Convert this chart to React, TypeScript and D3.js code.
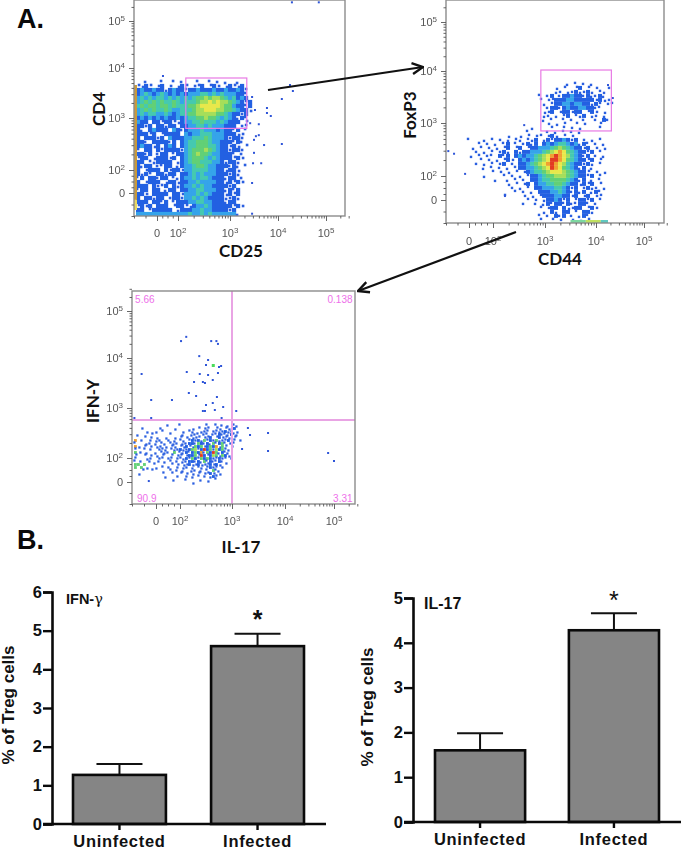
import React, { useEffect, useRef } from 'react';
import * as d3 from 'd3';

// Flow plots: axis units are decades (2 = 10^2 ... 5 = 10^5), 0 is the "0" tick of the biexponential axis
const flowDecades = [-1, 0, 2, 3, 4, 5];
const flowTickLabels = [0, 2, 3, 4, 5];

// density, one char per cell: . empty, a sparse ... i red
const cd4Density = [
  '..a...a..a.a...a..a.a.a..a...',
  'aaba.ab.a.aba.aab.aba.abaab..',
  'bcbbcbbabcbbabbcbbbcbbcbbcba.',
  'bcdcbcdcbcbcbcccddcdcdcccbba.',
  'cdcdcddcdcdcdcdeefeffedcdbcb.',
  'cdedededdedcdddeffgfgffedcbab',
  'dedeedeededddeefgggggfeecbbab',
  'cdededdedccdddeffgggffeedcbba',
  'cdcddccdcbcddeefffffeedcbbab.',
  'bcbcbcbcbbcbcddeefeedcdcbaba.',
  'cbb.bbabbaabccddedddcdcbbb.a.',
  'bbab.bbabb.bbccddcdcccbbb.aa.',
  'ba.bcbbb.cbabcccdcccbcbbab.a.',
  'bbbab.abbbb.cbccdddcccbbbaa..',
  'b.bbbab.cbbbccdddedcccbabba..',
  'bba.bbbbab.bcddeeedccbbbaba..',
  'bcbbab.bcb.bcddeeeddcbbaba.a.',
  'a.bb.babbbbacdeeefedcbbabba..',
  'bbab.abb.abbcdefeedccbbba.a..',
  'abb.abbbab.bcdeeedcdcbbbaba..',
  'bb.aabbbb.abcdeedddccbabba...',
  'babb.aabb.abccdeedccbbbaba.a.',
  'b.abbb.babbaccddddccbbabba...',
  'baba.bbabb.bbcdcdcccbbbaba...',
  'ab.bbabb.aabccdcddcbbbabb.a..',
  'b.abbb.abbabbccdccccbbababa..',
  'bbb.baab.babccdcdccbbbbab....',
  'abb.bb.abb.bbccddcccbbabab...',
  'bba.bbbb.bbacccdcdcbbbabab...',
  'b.bbabb.abbaccdcdcbbbbaaba...',
  'bbb.bbab.abbbccddccbbbabb....',
  'abab.bbb.abbaabccdcbbbbbaba..',
  'bb.abbbbb.abbbccdccbbbbab....',
  'cccccccccccccdccdcdcccccca...',
];
const cd4Points = [
  [4.29, 5.4], [4.85, 5.4], [0.57, 3.84], [3.46, 3.42], [3.77, 3.2], [3.77, 3.1], [3.85, 3.04],
  [4.25, 3.66], [4.31, 3.54], [4.08, 3.38], [4.08, 2.5], [3.71, 2.48], [3.6, 2.88], [3.42, 2.9],
  [3.54, 2.65], [3.6, 2.67], [3.5, 2.58], [3.5, 2.33], [3.48, 2.13], [3.65, 2.13], [3.46, 0.87],
  [3.46, -0.9], [3.52, 3.16],
];

const foxp3Density = [
  '.........................a.a.a.a.....',
  '......................a.a..ab.a.a..a.',
  '......................aa.aabaaba.aa..',
  '..................a.ab.abbcbbabaaba..',
  '..................a.aabbbccbbbbbabaa.',
  '...................a.abbccbccbbaba.aa',
  '....................abbabcbbccbbaa...',
  '...................aab.abbabb.aba.a..',
  '...................aa.a.ab.aab.aa.a..',
  '...................a.a..a.a..a..a.ba.',
  '....................a.a.a..a.a...a...',
  '................a....a..a.a.a....a...',
  '...............a....a.a.a.a.a........',
  '..........a..a.a.aa.aba.a.a..........',
  'a...a.a.a.a.aa.aab.ababbcbab.a.a.a...',
  '...a.a.a.ab.a.abab.bcbcddcbcaba.a.a..',
  '.a.a.a.a.ab.ab.abbcccdefedcbbab.a.a..',
  '..a.a.a.aba.babbcccdefghgedcbbab.a...',
  '.a.a.aa.bab.bcbccdefghihgfdcbab.a.a..',
  '...a.a.a.aba.bcbcdefgiihgedcbbab.a...',
  '..a.a.a.ab.a.bbcdefghihgfdcbbaba.a...',
  '....a.a.a.a.abbccdefgihgedcbab.a.....',
  '......a.a.a.a.abcddefgggfedcbba.a.a..',
  '....a....a.a.a.abbcdeefffedcbbab.a...',
  '.......a..a.a.a.bbcddeeeedcbab.a.a...',
  '..........a.a.ab.bccddeedcbbabab.a...',
  '...........a.a.a.bbcccddcbab.abaa.a..',
  '............a.a.a.bbbccdcbabab.aba...',
  '.........a....a.a.abbbccbbab.ab.aa...',
  '...............a.a.abbcbab.abbab.a...',
  '..............a..a.ababbabaabba.a....',
  '..................a.abb.baabb.aba....',
  '...................a.ba.bb.a.bba.....',
  '..................a.a.bab.a.aba......',
  '..................a..a.a..a.a.a......',
];
const foxp3Points = [
  [-0.9, 2.47], [-0.65, 2.42], [-0.17, 2.04], [2.23, 0.33], [2.6, 2.96], [4.35, 3.48], [4.25, 3.73],
];

const ifngDensity = [
  '...........a...a........a..a.a.a.aa.',
  '..a.....a....a.....a.a.aa..aa.aa.b..',
  '....a..a.a......a.aa..aaa.aaaabaa.a.',
  '.a....a.....a...a..aaa.aa.aabaaabaa.',
  '...a.a.a..a..a.a.a.aaa.aab.abaaa.a.',
  'h.a..a.aa..a.a.aa.ababaeabaeaaab.a.a',
  'a...aa.a.aa.aaa.aabbaebabaeabea.aa..',
  'ha.a.a.aa.a.aa.aabaaebeabebhaea.a...',
  'a..a.a..aaa.aaabaabefabibeafbeaa....',
  'e.a.a..a.aaa.e.aababebhaebieabaa....',
  'a..a.a.a.a..a.aa.abbeaibabfeaeba....',
  'a...aa..aa.aa.aaabaebaebebaabaa.a...',
  'a.a..a..a.a.a.a.aabbabaeabaaba......',
  'ee.e..a.....a.a.aabaabaaababa.a.....',
  'e.e.a..a.a.a..a.aa.a.aa.abaa.a......',
  '...a..a.....a.a.a..aa.a.a.eaa.......',
  '.a.......a..a..a.a.a.a.aaba.a.......',
  '..........a...a..a.a.a.a.aba........',
  '.............a...a....a....a........',
  '...................a....a...........',
];
const ifngPoints = [
  [2.02, 4.36], [2.12, 4.45], [2.6, 4.36], [2.7, 4.36], [2.73, 4.3], [2.37, 4.04], [2.54, 3.96],
  [2.5, 3.86], [2.79, 3.84], [2.75, 3.82], [2.13, 3.72], [2.38, 3.68], [2.54, 3.66], [2.73, 3.7],
  [-0.6, 3.68], [2.27, 3.52], [2.44, 3.52], [2.48, 3.5], [2.63, 3.56], [3.0, 3.5], [2.17, 3.3],
  [2.31, 3.24], [2.71, 3.22], [-0.2, 3.16], [1.33, 3.16], [2.63, 3.1], [2.5, 3.06], [2.83, 3.02],
  [2.67, 2.96], [2.44, 2.94], [2.48, 2.94], [3.08, 2.94], [-0.9, 2.8], [-0.2, 2.8], [2.8, 2.8],
  [3.68, 2.5], [3.68, 2.14], [4.88, 2.1], [5.0, 1.75], [3.19, 2.18], [3.3, 2.6], [3.34, 2.46],
  [-0.3, 0.08],
];
const ifngGreenPoints = [[2.63, 3.86]];
const ifngQuadrants = ['5.66', '0.138', '90.9', '3.31'];

// bar panels
const groups = ['Uninfected', 'Infected'];
const ifngMeans = [1.27, 4.6];
const ifngErrors = [0.28, 0.32];
const il17Means = [1.6, 4.28];
const il17Errors = [0.38, 0.38];

const densityColors: Record<string, string> = {
  a: '#2a5ee0', b: '#2360e2', c: '#35a4ea', d: '#45c9b0', e: '#62d076',
  f: '#a6de5a', g: '#e8e84c', h: '#f0a030', i: '#e23a22',
};

const PINK = '#e87ae4';

function flowPlot(svg: any, id: string, cfg: any) {
  const [left, right, top, bottom] = cfg.frame;
  const x = d3.scaleLinear().domain([...flowDecades, cfg.xHi]).range(cfg.xPx);
  const y = d3.scaleLinear().domain([...flowDecades, cfg.yHi]).range(cfg.yPx);

  svg.append('clipPath').attr('id', id).append('rect')
    .attr('x', left).attr('y', top).attr('width', right - left).attr('height', bottom - top);

  const g = svg.append('g').attr('filter', 'url(#soft)');
  const plot = g.append('g').attr('clip-path', `url(#${id})`);

  // density cells, sparse ones nudged off the lattice
  const nRows = cfg.density.length;
  const nCols = d3.max(cfg.density, (r: string) => r.length) as number;
  const colBand = d3.scaleBand<number>().domain(d3.range(nCols))
    .range([x(cfg.gridX), x(cfg.gridX) + nCols * cfg.cell]);
  const rowBand = d3.scaleBand<number>().domain(d3.range(nRows))
    .range([y(cfg.gridY), y(cfg.gridY) + nRows * cfg.cell]);
  const cells: { c: number; r: number; k: string }[] = [];
  cfg.density.forEach((row: string, r: number) => {
    row.split('').forEach((k, c) => {
      if (k !== '.') cells.push({ c, r, k });
    });
  });
  const side = (d: any) => cfg.cell * (d.k === 'a' ? cfg.dot : cfg.full);
  const nudge = (a: number, b: number) => ((a * 3 + b * 5) % 3) - 1;
  plot.selectAll('.cell').data(cells).enter().append('rect')
    .attr('class', 'cell')
    .attr('x', (d: any) => colBand(d.c)! + (cfg.cell - side(d)) / 2 + (d.k === 'a' ? nudge(d.c, d.r) : 0))
    .attr('y', (d: any) => rowBand(d.r)! + (cfg.cell - side(d)) / 2 + (d.k === 'a' ? nudge(d.r + 1, d.c) : 0))
    .attr('width', side)
    .attr('height', side)
    .attr('fill', (d: any) => densityColors[d.k]);

  // events that pile up on the low edge
  (cfg.yEdge || []).forEach(([a, b, color]: [number, number, string]) => {
    plot.append('rect').attr('x', left).attr('y', y(a)).attr('width', 3)
      .attr('height', y(b) - y(a)).attr('fill', color);
  });
  (cfg.xEdge || []).forEach(([a, b, color]: [number, number, string]) => {
    plot.append('rect').attr('x', x(a)).attr('y', bottom - 3).attr('height', 3)
      .attr('width', x(b) - x(a)).attr('fill', color);
  });

  // single events
  plot.selectAll('.pt').data(cfg.points).enter().append('rect')
    .attr('class', 'pt')
    .attr('x', (d: number[]) => x(d[0]) - 1).attr('y', (d: number[]) => y(d[1]) - 1)
    .attr('width', 2).attr('height', 2).attr('fill', '#2f55d8');
  plot.selectAll('.gpt').data(cfg.greenPoints || []).enter().append('rect')
    .attr('class', 'gpt')
    .attr('x', (d: number[]) => x(d[0]) - 1).attr('y', (d: number[]) => y(d[1]) - 1)
    .attr('width', 3).attr('height', 3).attr('fill', '#48dc5a');

  // gate
  if (cfg.gate) {
    const [gx0, gx1, gy0, gy1] = cfg.gate;
    g.append('rect')
      .attr('x', x(gx0)).attr('y', y(gy1))
      .attr('width', x(gx1) - x(gx0)).attr('height', y(gy0) - y(gy1))
      .attr('fill', 'none').attr('stroke', PINK).attr('stroke-width', 1.2);
  }
  if (cfg.cross) {
    g.append('line').attr('x1', x(cfg.cross[0])).attr('x2', x(cfg.cross[0]))
      .attr('y1', top).attr('y2', bottom).attr('stroke', '#e9a4e4').attr('stroke-width', 2);
    g.append('line').attr('x1', left).attr('x2', right)
      .attr('y1', y(cfg.cross[1])).attr('y2', y(cfg.cross[1])).attr('stroke', '#e9a4e4').attr('stroke-width', 2);
  }

  // frame
  g.append('rect').attr('x', left).attr('y', top)
    .attr('width', right - left).attr('height', bottom - top)
    .attr('fill', 'none').attr('stroke', '#8c8c8c').attr('stroke-width', 1.4);

  // minor + major ticks
  const minor: number[] = [-1, -0.5, 0.5, 1, 1.5];
  [2, 3, 4].forEach((d) => d3.range(2, 10).forEach((k) => minor.push(d + Math.log10(k))));
  [2, 3].forEach((k) => minor.push(5 + Math.log10(k)));
  const styleAxis = (a: any) => {
    a.select('.domain').remove();
    a.selectAll('line').attr('stroke', '#555').attr('stroke-width', 0.9);
  };
  g.append('g').attr('transform', `translate(0,${bottom})`)
    .call(d3.axisBottom(x).tickValues(minor).tickSize(2.5).tickFormat(() => '')).call(styleAxis);
  g.append('g').attr('transform', `translate(0,${bottom})`)
    .call(d3.axisBottom(x).tickValues(flowTickLabels).tickSize(5).tickFormat(() => '')).call(styleAxis);
  g.append('g').attr('transform', `translate(${left},0)`)
    .call(d3.axisLeft(y).tickValues(minor).tickSize(2.5).tickFormat(() => '')).call(styleAxis);
  g.append('g').attr('transform', `translate(${left},0)`)
    .call(d3.axisLeft(y).tickValues(flowTickLabels).tickSize(5).tickFormat(() => '')).call(styleAxis);

  // tick labels with superscript
  const tickLabel = (sel: any, d: number) => {
    if (d === 0) {
      sel.text('0');
    } else {
      sel.append('tspan').text('10');
      sel.append('tspan').attr('dy', -4).attr('font-size', 8).text(d);
    }
  };
  flowTickLabels.forEach((d) => {
    const tx = g.append('text').attr('x', x(d)).attr('y', bottom + cfg.xLabelGap)
      .attr('text-anchor', 'middle').attr('font-family', 'Liberation Sans').attr('font-size', 11).attr('fill', '#555');
    tickLabel(tx, d);
    const ty = g.append('text').attr('x', left - 9).attr('y', y(d) + 4)
      .attr('text-anchor', 'end').attr('font-family', 'Liberation Sans').attr('font-size', 11).attr('fill', '#555');
    tickLabel(ty, d);
  });

  // axis titles
  const titleFont = { family: 'Lato', size: 17 };
  svg.append('text').attr('x', cfg.xTitle[1]).attr('y', cfg.xTitle[2])
    .attr('text-anchor', 'middle').attr('font-family', titleFont.family).attr('font-weight', 700)
    .attr('font-size', titleFont.size).attr('fill', '#111').text(cfg.xTitle[0]);
  svg.append('text')
    .attr('transform', `translate(${cfg.yTitle[1]},${cfg.yTitle[2]}) rotate(-90)`)
    .attr('text-anchor', 'middle').attr('font-family', titleFont.family).attr('font-weight', 700)
    .attr('font-size', titleFont.size).attr('fill', '#111').text(cfg.yTitle[0]);

  return { x, y };
}

function barPanel(svg: any, cfg: any) {
  const y = d3.scaleLinear().domain([0, cfg.yMax]).range([cfg.y0, cfg.y1]);
  const x = d3.scaleBand<string>().domain(groups).range(cfg.xRange).paddingInner(0.327).paddingOuter(0);
  const data = groups.map((g, i) => ({ g, mean: cfg.means[i], err: cfg.errors[i] }));
  const g = svg.append('g');

  // error bars go behind the bar outline
  const bw = x.bandwidth();
  g.selectAll('.stem').data(data).enter().append('line')
    .attr('x1', (d: any) => x(d.g)! + bw / 2).attr('x2', (d: any) => x(d.g)! + bw / 2)
    .attr('y1', (d: any) => y(d.mean)).attr('y2', (d: any) => y(d.mean + d.err))
    .attr('stroke', '#111').attr('stroke-width', 2);
  g.selectAll('.cap').data(data).enter().append('line')
    .attr('x1', (d: any) => x(d.g)! + bw / 2 - 23).attr('x2', (d: any) => x(d.g)! + bw / 2 + 23)
    .attr('y1', (d: any) => y(d.mean + d.err)).attr('y2', (d: any) => y(d.mean + d.err))
    .attr('stroke', '#111').attr('stroke-width', 2);
  g.selectAll('.bar').data(data).enter().append('rect')
    .attr('x', (d: any) => x(d.g)!).attr('y', (d: any) => y(d.mean))
    .attr('width', bw).attr('height', (d: any) => cfg.y0 - y(d.mean))
    .attr('fill', '#858585').attr('stroke', '#0a0a0a').attr('stroke-width', 2.6);

  // y axis
  const yAxis = g.append('g').attr('transform', `translate(${cfg.axisX},0)`)
    .call(d3.axisLeft(y).ticks(cfg.yMax).tickSize(9).tickPadding(1).tickFormat(d3.format('d')));
  yAxis.select('.domain').attr('stroke', '#0a0a0a').attr('stroke-width', 2.6);
  yAxis.selectAll('line').attr('stroke', '#0a0a0a').attr('stroke-width', 2.4);
  yAxis.selectAll('text').attr('font-family', 'Liberation Sans').attr('font-weight', 700)
    .attr('font-size', 16.5).attr('fill', '#111');

  // x axis
  const xAxis = g.append('g').attr('transform', `translate(0,${cfg.y0})`)
    .call(d3.axisBottom(x).tickSize(6).tickPadding(5));
  xAxis.select('.domain').remove();
  xAxis.selectAll('line').attr('stroke', '#0a0a0a').attr('stroke-width', 2.4);
  xAxis.selectAll('text').attr('font-family', 'Liberation Sans').attr('font-weight', 700)
    .attr('font-size', 16.5).attr('letter-spacing', 0.7).attr('fill', '#111');
  g.append('line').attr('x1', cfg.axisX - 9).attr('x2', cfg.xEnd).attr('y1', cfg.y0).attr('y2', cfg.y0)
    .attr('stroke', '#0a0a0a').attr('stroke-width', 2.6);

  g.append('text')
    .attr('transform', `translate(${cfg.yTitleX},${cfg.yTitleY}) rotate(-90)`)
    .attr('text-anchor', 'middle').attr('font-family', 'Liberation Sans').attr('font-weight', 700)
    .attr('font-size', 17).attr('fill', '#111').text('% of Treg cells');

  // significance star on the infected group
  g.append('text').attr('x', x('Infected')! + bw / 2).attr('y', cfg.starY)
    .attr('text-anchor', 'middle').attr('font-family', 'Liberation Sans').attr('font-weight', cfg.starWeight)
    .attr('font-size', 25).attr('fill', '#111').text('*');
}

const App: React.FC = () => {
  const svgRef = useRef<SVGSVGElement>(null);

  useEffect(() => {
    if (!svgRef.current) return;
    const svg = d3.select(svgRef.current);
    svg.selectAll('*').remove();

    const defs = svg.append('defs');
    defs.append('filter').attr('id', 'soft').append('feGaussianBlur').attr('stdDeviation', 0.45);
    const marker = defs.append('marker').attr('id', 'head').attr('viewBox', '0 0 12 12')
      .attr('refX', 11).attr('refY', 6).attr('markerWidth', 13).attr('markerHeight', 13)
      .attr('markerUnits', 'userSpaceOnUse').attr('orient', 'auto');
    marker.append('path').attr('d', 'M1,1 L11,6 L1,11').attr('fill', 'none')
      .attr('stroke', '#111').attr('stroke-width', 2.2);

    flowPlot(svg, 'clip-cd4', {
      frame: [134, 345, 0, 216],
      xHi: 5.4, yHi: 5.45,
      xPx: [134, 157, 178, 230, 278, 326, 345],
      yPx: [216, 193, 170, 118, 68, 21, 0],
      density: cd4Density, gridX: -0.91, gridY: 3.76, cell: 4, dot: 0.65, full: 1.05,
      points: cd4Points,
      yEdge: [[3.66, -0.3, '#c89a3c'], [-0.3, -0.74, '#e8d860']],
      gate: [2.15, 3.35, 2.8, 3.8],
      xLabelGap: 21,
      xTitle: ['CD25', 241, 257], yTitle: ['CD4', 105, 109],
    });
    flowPlot(svg, 'clip-foxp3', {
      frame: [446, 664, 0, 223],
      xHi: 5.42, yHi: 5.45,
      xPx: [446, 469, 493, 545, 596, 644, 664],
      yPx: [223, 200, 176, 123, 71, 22, 0],
      density: foxp3Density, gridX: -0.13, gridY: 3.79, cell: 4, dot: 0.6, full: 1,
      points: foxp3Points,
      xEdge: [[3.5, 3.8, '#7cd8a0'], [3.8, 4.1, '#c0e060'], [4.1, 4.25, '#60c8c0']],
      gate: [2.92, 4.32, 2.85, 4.02],
      xLabelGap: 22,
      xTitle: ['CD44', 560, 265], yTitle: ['FoxP3', 416, 115],
    });
    const q = flowPlot(svg, 'clip-ifng', {
      frame: [132, 355, 291, 504],
      xHi: 5.43, yHi: 5.43,
      xPx: [132, 156, 180, 232, 285, 334, 355],
      yPx: [504, 482, 458, 408, 358, 311, 291],
      density: ifngDensity, gridX: -0.92, gridY: 2.68, cell: 3, dot: 0.75, full: 0.95,
      points: ifngPoints, greenPoints: ifngGreenPoints,
      cross: [3, 2.76],
      xLabelGap: 21,
      xTitle: ['IL-17', 241, 553], yTitle: ['IFN-Y', 99, 401],
    });

    // quadrant percentages
    const qx = [q.x(-0.87), q.x(5.38), q.x(-0.79), q.x(5.38)];
    const qy = [q.y(5.18), q.y(5.18), q.y(-0.91), q.y(-0.91)];
    ifngQuadrants.forEach((t, i) => {
      svg.append('text').attr('x', qx[i]).attr('y', qy[i])
        .attr('text-anchor', i % 2 ? 'end' : 'start')
        .attr('font-family', 'Liberation Sans').attr('font-size', 10).attr('fill', '#ee70ea').text(t);
    });

    // arrows between the gates
    const arrow = (a: number[], b: number[]) =>
      svg.append('line').attr('x1', a[0]).attr('y1', a[1]).attr('x2', b[0]).attr('y2', b[1])
        .attr('stroke', '#111').attr('stroke-width', 2.2).attr('marker-end', 'url(#head)');
    arrow([268, 90], [423, 67]);
    arrow([516, 232], [358, 291]);

    // panel letters
    [['A.', 28], ['B.', 549]].forEach(([t, yy]) => {
      svg.append('text').attr('x', 17).attr('y', yy as number)
        .attr('font-family', 'Liberation Sans').attr('font-weight', 700).attr('font-size', 27)
        .attr('fill', '#0a0a0a').text(t as string);
    });

    barPanel(svg, {
      means: ifngMeans, errors: ifngErrors, yMax: 6,
      y0: 824, y1: 592, axisX: 52, xEnd: 326, xRange: [73, 304],
      yTitleX: 14, yTitleY: 705, starY: 628, starWeight: 700,
    });
    barPanel(svg, {
      means: il17Means, errors: il17Errors, yMax: 5,
      y0: 822, y1: 598, axisX: 413, xEnd: 681, xRange: [435, 659],
      yTitleX: 373, yTitleY: 707, starY: 609, starWeight: 400,
    });
    const gammaLabel = svg.append('text').attr('x', 66).attr('y', 604)
      .attr('font-family', 'Liberation Sans').attr('font-weight', 700).attr('font-size', 14.5).attr('fill', '#111');
    gammaLabel.append('tspan').text('IFN-');
    gammaLabel.append('tspan').attr('font-family', 'DejaVu Serif').attr('font-weight', 400).text('γ');
    svg.append('text').attr('x', 424).attr('y', 609)
      .attr('font-family', 'Liberation Sans').attr('font-weight', 700).attr('font-size', 16)
      .attr('fill', '#111').text('IL-17');
  }, []);

  return (
    <svg
      ref={svgRef}
      width={681}
      height={849}
      style={{ position: 'absolute', left: 0, top: 0, background: '#fff' }}
    />
  );
};

export default App;
